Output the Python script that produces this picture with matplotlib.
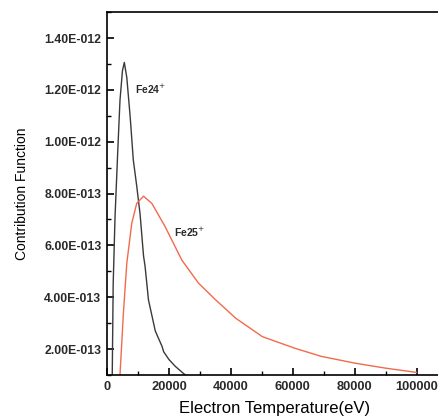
import matplotlib.pyplot as plt
from matplotlib.ticker import FuncFormatter, MultipleLocator, NullFormatter
import numpy as np

plt.rcParams['font.family'] = ['Liberation Sans', 'DejaVu Sans']

# Fe24+ contribution function (T in eV, value)
fe24_t = [1700, 2000, 2600, 3500, 4200, 5000, 5600, 6400, 7500, 8500, 9600, 10700,
          11800, 12300, 13400, 14500, 15600, 17800, 18300, 20000, 22100, 25300]
fe24_v = [1.0e-13, 4.5e-13, 7.1e-13, 9.7e-13, 1.16e-12, 1.274e-12, 1.306e-12, 1.248e-12,
          1.095e-12, 0.93e-12, 0.83e-12, 0.72e-12, 0.56e-12, 0.52e-12, 0.39e-12, 0.33e-12,
          0.27e-12, 0.21e-12, 0.19e-12, 0.16e-12, 0.133e-12, 1.0e-13]

# Fe25+ contribution function
fe25_t = [4200, 5300, 6400, 8000, 9600, 11800, 14500, 18800, 24200, 29600, 35100, 41600,
          50200, 60500, 69200, 80000, 89700, 100000]
fe25_v = [1.0e-13, 3.38e-13, 5.31e-13, 6.85e-13, 7.62e-13, 7.9e-13, 7.62e-13, 6.72e-13,
          5.43e-13, 4.54e-13, 3.9e-13, 3.19e-13, 2.48e-13, 2.04e-13, 1.72e-13, 1.46e-13,
          1.27e-13, 1.1e-13]

fig = plt.figure(figsize=(4.39, 4.19), dpi=100)
ax = fig.add_axes([0.2437, 0.105, 0.765, 0.866])

ax.plot(fe24_t, fe24_v, color='#3a3a3a', lw=1.0)
ax.plot(fe25_t, fe25_v, color='#f26a4b', lw=1.0)

ax.set_xlim(0, 108500)
ax.set_ylim(1.0e-13, 1.5e-12)

ax.xaxis.set_major_locator(MultipleLocator(20000))
ax.xaxis.set_minor_locator(MultipleLocator(10000))
ax.yaxis.set_major_locator(MultipleLocator(2e-13))
ax.yaxis.set_minor_locator(MultipleLocator(1e-13))


def sci_fmt(v, pos):
    if v <= 0 or v > 1.45e-12:
        return ''
    exp = int(np.floor(np.log10(abs(v)) + 1e-9))
    mant = v / 10 ** exp
    return '%.2fE-%03d' % (mant, -exp)


ax.yaxis.set_major_formatter(FuncFormatter(sci_fmt))
ax.yaxis.set_minor_formatter(NullFormatter())
ax.tick_params(which='both', direction='in', top=False, right=False, labelcolor='#2a2a2a')
ax.tick_params(axis='y', labelsize=8.8)
ax.tick_params(axis='x', labelsize=9.3)
ax.tick_params(which='major', length=5, width=1.2, pad=4)
ax.tick_params(which='minor', length=3, width=1.0)
for lab in ax.get_xticklabels() + ax.get_yticklabels():
    lab.set_fontweight('bold')
ax.spines['right'].set_visible(False)
for s in ['left', 'bottom', 'top']:
    ax.spines[s].set_linewidth(1.2)

ax.text(9000, 1.2e-12, 'Fe24$^{+}$', fontsize=7.5, fontweight='bold', color='#2a2a2a', va='center')
ax.text(21500, 6.5e-13, 'Fe25$^{+}$', fontsize=7.5, fontweight='bold', color='#2a2a2a', va='center')

ax.set_xlabel('Electron Temperature(eV)', fontsize=12, labelpad=6)
ax.set_ylabel('Contribution Function', fontsize=10, labelpad=11)

fig.savefig('out.png', dpi=100)
